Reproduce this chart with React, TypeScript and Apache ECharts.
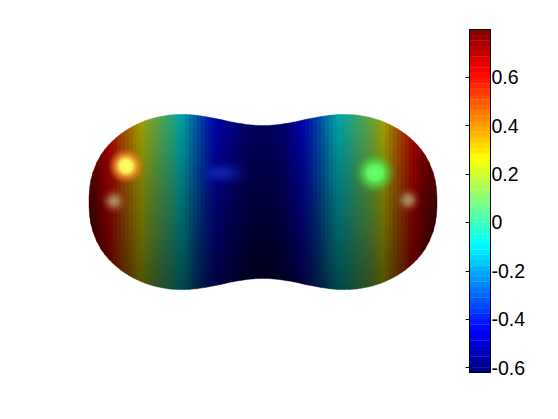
import React, { useEffect, useRef } from "react";
import * as echarts from "echarts";

// Surface: one value per facet column, left to right across the shape
const surfaceValues = [
  0.795, 0.79, 0.785, 0.77, 0.72, 0.68, 0.64, 0.6, 0.56, 0.51, 0.46, 0.42, 0.38, 0.33, 0.29, 0.25, 0.2, 0.17,
  0.13, 0.1, 0.07, 0.04, 0.01, -0.03, -0.08, -0.11, -0.15, -0.2, -0.24, -0.29, -0.33, -0.37, -0.4,
  -0.43, -0.46, -0.48, -0.5, -0.52, -0.54, -0.56, -0.575, -0.59, -0.6, -0.605, -0.61,
  -0.615,
  -0.61, -0.605, -0.6, -0.59, -0.575, -0.55, -0.52, -0.49, -0.46, -0.43, -0.4, -0.37, -0.33, -0.29,
  -0.25, -0.2, -0.16, -0.12, -0.09, -0.07, -0.04, -0.01, 0.02, 0.05, 0.08, 0.1, 0.13, 0.17, 0.21, 0.26,
  0.31, 0.36, 0.41, 0.46, 0.5, 0.55, 0.6, 0.63, 0.67, 0.71, 0.74, 0.77, 0.785, 0.79, 0.795,
];
// Outline: distance of each column edge from the neck, and the half-height there
const outlineEdges = [
  2, 6, 10, 14, 18, 22, 26, 30, 34, 38, 42, 46, 50, 54, 58, 62, 66, 70, 74, 78, 82, 86, 90, 94, 98,
  102, 106, 110, 114, 118, 122, 126, 130, 134, 138, 142, 146, 150, 154, 158, 162, 166, 170, 172, 173, 174,
];
const outlineHalfHeights = [
  76.5, 76.6, 76.9, 77.3, 77.8, 78.4, 79, 79.8, 80.6, 81.5, 82.4, 83.2, 84, 84.8, 85.5, 86.1, 86.7,
  87.1, 87.4, 87.6, 87.6, 87.5, 87.3, 86.9, 86.3, 85.6, 84.8, 83.8, 82.6, 81.2, 79.6, 77.8, 75.8,
  73.5, 71, 68.2, 65, 61.4, 57.4, 52.8, 47.2, 40, 30, 22.5, 16, 5,
];
// Colour bar levels (64 steps of the jet map)
const colorbarLevels = [
  -0.609, -0.587, -0.565, -0.542, -0.52, -0.498, -0.476, -0.454, -0.432, -0.41, -0.388, -0.365,
  -0.343, -0.321, -0.299, -0.277, -0.255, -0.233, -0.211, -0.188, -0.166, -0.144, -0.122, -0.1,
  -0.078, -0.056, -0.034, -0.011, 0.011, 0.033, 0.055, 0.077, 0.099, 0.121, 0.143, 0.166, 0.188,
  0.21, 0.232, 0.254, 0.276, 0.298, 0.32, 0.343, 0.365, 0.387, 0.409, 0.431, 0.453, 0.475, 0.497,
  0.52, 0.542, 0.564, 0.586, 0.608, 0.63, 0.652, 0.674, 0.697, 0.719, 0.741, 0.763, 0.785,
];
const colorbarTicks = [-0.6, -0.4, -0.2, 0, 0.2, 0.4, 0.6];
const VMIN = -0.62;
const VMAX = 0.797;
// Specular highlights: centre x, centre y, radius x, radius y
const highlightX = [-137, -149, -42, 112, 145];
const highlightY = [36, 1, 29, 29, 2];
const highlightRx = [18, 14, 30, 21, 14];
const highlightRy = [18, 14, 13, 21, 14];
const highlightColors = [
  [[255, 255, 110, 1], [255, 250, 90, 0.95], [255, 150, 50, 0.65], [255, 110, 30, 0]],
  [[190, 170, 120, 0.85], [180, 150, 105, 0.65], [170, 110, 70, 0.3], [150, 60, 30, 0]],
  [[20, 45, 190, 0.85], [15, 40, 175, 0.65], [10, 30, 160, 0.3], [0, 20, 150, 0]],
  [[105, 255, 105, 1], [95, 250, 95, 0.95], [80, 210, 70, 0.6], [70, 170, 40, 0]],
  [[180, 170, 120, 0.85], [170, 150, 105, 0.65], [150, 110, 60, 0.3], [120, 60, 10, 0]],
];

const TIP = 174;

function jet(v: number): number[] {
  const t = Math.min(1, Math.max(0, (v - VMIN) / (VMAX - VMIN)));
  const ch = (c: number) => Math.min(1, Math.max(0, 1.5 - Math.abs(4 * t - c)));
  return [ch(3), ch(2), ch(1)].map((k) => k * 255);
}

// The outline is mirrored around the neck: edges run from the left tip to the right tip
const edgeX = [...outlineEdges.map((d) => -d).reverse(), ...outlineEdges];
const edgeH = [...[...outlineHalfHeights].reverse(), ...outlineHalfHeights];

function shadeStops(d: number) {
  const k = d / TIP;
  const top = 0.68 - 0.08 * k;
  const mid = 0.42 + 0.06 * k;
  const bottom = 0.2 + 0.18 * k;
  return [
    { offset: 0, m: top },
    { offset: 0.5, m: mid },
    { offset: 1, m: bottom },
  ];
}

const surfaceData = surfaceValues.map((v, i) => [edgeX[i], edgeX[i + 1], edgeH[i], edgeH[i + 1], v]);

export default function App() {
  const ref = useRef<HTMLDivElement>(null);
  useEffect(() => {
    document.body.style.margin = "0";
    const chart = echarts.init(ref.current!, undefined, { renderer: "svg" });
    chart.setOption({
      animation: false,
      backgroundColor: "#ffffff",
      grid: [
        { left: 89, top: 114, width: 348, height: 176, show: false },
        {
          left: 469.5,
          top: 29.5,
          width: 21,
          height: 343,
          show: true,
          borderColor: "#000000",
          borderWidth: 1,
          backgroundColor: "transparent",
          z: 5,
        },
      ],
      xAxis: [
        { type: "value", gridIndex: 0, min: -TIP, max: TIP, show: false },
        { type: "value", gridIndex: 1, min: 0, max: 1, show: false },
      ],
      yAxis: [
        { type: "value", gridIndex: 0, min: -88, max: 88, show: false },
        {
          type: "value",
          gridIndex: 1,
          min: VMIN,
          max: VMAX,
          position: "right",
          splitLine: { show: false },
          axisLine: { show: false },
          axisTick: {
            show: true,
            inside: true,
            length: 4,
            lineStyle: { color: "#000000", width: 1 },
            customValues: colorbarTicks,
          },
          axisLabel: {
            show: true,
            color: "#000000",
            fontFamily: "Liberation Sans",
            fontSize: 19.5,
            margin: 1,
            customValues: colorbarTicks,
            formatter: (v: number) => String(Math.round(v * 10) / 10),
          },
        },
        {
          type: "value",
          gridIndex: 1,
          min: VMIN,
          max: VMAX,
          position: "left",
          splitLine: { show: false },
          axisLine: { show: false },
          axisLabel: { show: false },
          axisTick: {
            show: true,
            inside: true,
            length: 3,
            lineStyle: { color: "#000000", width: 1 },
            customValues: colorbarTicks,
          },
        },
      ],
      series: [
        {
          type: "custom",
          coordinateSystem: "cartesian2d",
          xAxisIndex: 0,
          yAxisIndex: 0,
          silent: true,
          clip: false,
          data: surfaceData,
          encode: { x: [0, 1], y: [2, 3] },
          renderItem: (_p: any, api: any) => {
            const x0 = api.value(0);
            const x1 = api.value(1);
            const h0 = api.value(2);
            const h1 = api.value(3);
            const [r, g, b] = jet(api.value(4));
            const d = Math.abs((x0 + x1) / 2);
            const colorStops = shadeStops(d).map((s) => ({
              offset: s.offset,
              color: `rgb(${Math.round(r * s.m)},${Math.round(g * s.m)},${Math.round(b * s.m)})`,
            }));
            const fill = new echarts.graphic.LinearGradient(0, 0, 0, 1, colorStops);
            return {
              type: "polygon",
              shape: {
                points: [
                  api.coord([x0, h0]),
                  api.coord([x1, h1]),
                  api.coord([x1, -h1]),
                  api.coord([x0, -h0]),
                ],
              },
              style: { fill, stroke: fill, lineWidth: 0.4 },
            };
          },
        },
        {
          type: "custom",
          coordinateSystem: "cartesian2d",
          xAxisIndex: 0,
          yAxisIndex: 0,
          silent: true,
          clip: false,
          z: 3,
          data: highlightX.map((x, i) => [x, highlightY[i], highlightRx[i], highlightRy[i], i]),
          encode: { x: 0, y: 1 },
          renderItem: (_p: any, api: any) => {
            const [cx, cy] = api.coord([api.value(0), api.value(1)]);
            const rx = api.value(2);
            const ry = api.value(3);
            const cols = highlightColors[api.value(4)];
            const offsets = [0, 0.35, 0.65, 1];
            return {
              type: "circle",
              x: cx,
              y: cy,
              scaleX: rx / ry,
              shape: { cx: 0, cy: 0, r: ry },
              style: {
                fill: new echarts.graphic.RadialGradient(
                  0.5,
                  0.5,
                  0.5,
                  cols.map((c, j) => ({
                    offset: offsets[j],
                    color: `rgba(${c[0]},${c[1]},${c[2]},${c[3]})`,
                  }))
                ),
              },
            };
          },
        },
        {
          type: "custom",
          coordinateSystem: "cartesian2d",
          xAxisIndex: 1,
          yAxisIndex: 1,
          silent: true,
          data: colorbarLevels.map((v, i) => [
            v,
            i === 0 ? VMIN : (colorbarLevels[i - 1] + v) / 2,
            i === colorbarLevels.length - 1 ? VMAX : (colorbarLevels[i + 1] + v) / 2,
          ]),
          encode: { y: [1, 2] },
          renderItem: (_p: any, api: any) => {
            const p0 = api.coord([0, api.value(1)]);
            const p1 = api.coord([1, api.value(2)]);
            const [r, g, b] = jet(api.value(0));
            return {
              type: "rect",
              shape: { x: p0[0], y: p1[1], width: p1[0] - p0[0], height: p0[1] - p1[1] + 0.3 },
              style: { fill: `rgb(${Math.round(r)},${Math.round(g)},${Math.round(b)})` },
            };
          },
        },
      ],
    });
    return () => chart.dispose();
  }, []);
  return <div ref={ref} style={{ position: "absolute", left: 0, top: 0, width: 558, height: 419 }} />;
}
